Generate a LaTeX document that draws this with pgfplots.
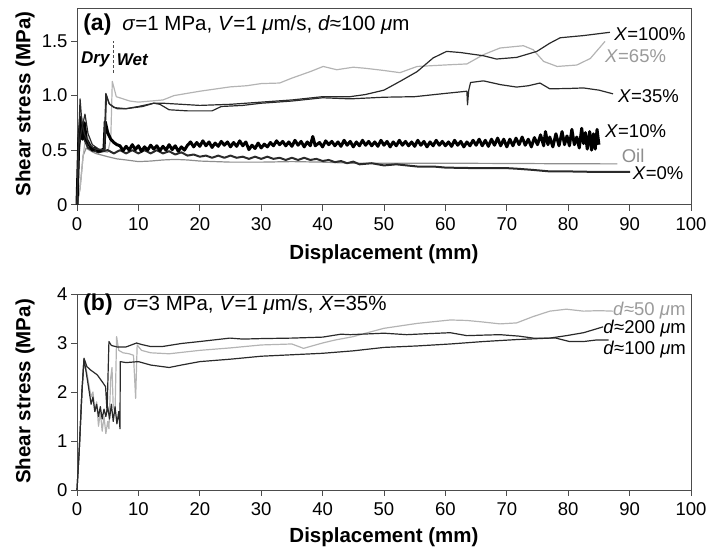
\documentclass[border=0pt]{standalone}
\usepackage{fontspec}
\setmainfont{Liberation Sans}
\usepackage{pgfplots}
\pgfplotsset{compat=1.18}
\definecolor{dk}{HTML}{2A2A2A}
\definecolor{lg}{HTML}{B4B4B4}
\definecolor{og}{HTML}{8E8E8E}
\definecolor{lab}{HTML}{9A9A9A}
\newcommand{\lbl}{\fontsize{18.5}{20}\selectfont}
\begin{document}
\begin{tikzpicture}
\path[use as bounding box] (0,0) rectangle (710pt,549pt);
\pgfplotsset{myax/.style={
  scale only axis, width=614pt,
  xmin=0, xmax=100, xtick={0,10,...,100},
  tick align=outside, tick pos=left, major tick length=6pt,
  axis line style={black!70, line width=0.9pt},
  every tick/.style={black!70, line width=0.9pt},
  ticklabel style={font=\fontsize{18.5}{20}\selectfont},
  xticklabel style={yshift=-3pt},
  /pgf/number format/assume math mode=true,
  label style={font=\bfseries\fontsize{20.5}{22}\selectfont},
  xlabel={Displacement (mm)}, ylabel={Shear stress (MPa)},
  clip=false,
  every axis plot/.append style={line width=1.2pt, line join=round},
}}
% ---------------- panel (a)
\begin{axis}[myax, at={(77pt,344.3pt)}, anchor=south west, height=196.4pt,
  ymin=0, ymax=1.8, ytick={0,0.5,1,1.5}, yticklabels={0,0.5,1.0,1.5},
  xlabel style={at={(axis description cs:0.5,-0.251)}, anchor=center},
  ylabel style={at={(axis description cs:-0.0847,0.513)}, anchor=center}]
% Oil
\addplot[og] coordinates {(0,0) (0.5,0.15) (1,0.45) (1.5,0.52) (2,0.5) (3,0.47) (5,0.44) (6.5,0.42) (8,0.41) (10,0.395) (12,0.4) (14,0.41) (16,0.415) (18,0.41) (20,0.4) (25,0.39) (30,0.39) (35,0.395) (40,0.39) (45,0.38) (50,0.38) (60,0.38) (70,0.378) (80,0.375) (88,0.374)};
% X=65%
\addplot[lg] coordinates {(0,0) (0.5,0.15) (1,0.45) (1.5,0.65) (2.2,0.55) (3,0.5) (5,0.48) (5.5,0.6) (5.75,1.13) (6.4,0.99) (8.6,0.95) (10,0.94) (12,0.95) (14,0.96) (15.8,1.0) (20,1.04) (25,1.08) (27.6,1.09) (30,1.11) (33,1.115) (35,1.16) (38,1.22) (40.1,1.267) (42.3,1.237) (45,1.26) (47,1.25) (50,1.23) (52.6,1.21) (55.4,1.267) (60.8,1.283) (63.5,1.29) (66.2,1.375) (68.9,1.436) (72.7,1.457) (74.3,1.42) (76,1.313) (78.2,1.267) (81.4,1.28) (83.6,1.34) (86,1.497)};
% X=0%
\addplot[dk, line width=2pt] coordinates {(0,0) (0.3,0.5) (0.7,0.7) (1.2,0.6) (1.8,0.52) (2.5,0.5) (3.5,0.48) (5,0.5) (6,0.47) (7,0.5) (8,0.47) (9,0.5) (10,0.47) (11,0.5) (12,0.47) (13,0.5) (14,0.47) (15,0.49) (16,0.46) (17,0.48) (18,0.45) (19,0.46) (20,0.44) (21,0.45) (22,0.43) (23,0.45) (24,0.43) (25,0.45) (26,0.43) (27,0.44) (28,0.42) (29,0.44) (30,0.42) (31,0.44) (32,0.42) (33,0.43) (34,0.41) (35,0.43) (36,0.41) (37,0.43) (38,0.41) (39,0.42) (40,0.4) (41,0.41) (42,0.39) (43,0.4) (44,0.38) (45,0.395) (46,0.37) (48,0.38) (50,0.36) (52,0.37) (55.4,0.35) (58,0.35) (60,0.34) (65,0.335) (70,0.335) (71.6,0.33) (74,0.32) (77,0.305) (80,0.305) (85,0.3) (90.1,0.3)};
% X=10%
\addplot[black, line width=3pt] coordinates {(0,0) (0.3,0.6) (0.6,0.8) (0.9,0.6) (1.2,0.75) (1.5,0.6) (2,0.55) (2.5,0.5) (3,0.52) (3.5,0.49) (4,0.5) (4.4,0.51) (4.6,0.76) (5,0.66) (5.5,0.6) (6,0.57) (6.5,0.55)
(7,0.54) (7.5,0.495) (8,0.535) (8.5,0.50) (9,0.55) (9.5,0.505) (10,0.54) (10.5,0.49) (11,0.53) (11.5,0.50) (12,0.545) (12.5,0.51) (13,0.54) (13.5,0.495) (14,0.535) (14.5,0.50) (15,0.55) (15.5,0.505) (16,0.54) (16.5,0.49) (17,0.53) (17.5,0.50) (18,0.545)
(18.5,0.575) (19,0.53) (19.5,0.57) (20,0.535) (20.5,0.585) (21,0.54) (21.5,0.575) (22,0.525) (22.5,0.565) (23,0.535) (23.5,0.58) (24,0.545) (24.5,0.575) (25,0.53) (25.5,0.57) (26,0.535) (26.5,0.585) (27,0.54) (27.5,0.575)
(28,0.505) (28.5,0.545) (29,0.515) (29.5,0.565) (30,0.52) (30.5,0.555)
(31,0.53) (31.5,0.57) (32,0.54) (32.5,0.585) (33,0.55) (33.5,0.58) (34,0.54) (34.5,0.575) (35,0.535) (35.5,0.59) (36,0.545) (36.5,0.58) (37,0.53) (37.5,0.575) (38,0.54) (38.4,0.625) (38.8,0.54) (39.5,0.57) (40,0.53) (40.5,0.585) (41,0.55) (41.5,0.58) (42,0.54) (42.5,0.575) (43,0.535) (43.5,0.59) (44,0.545) (44.5,0.58) (45,0.53) (45.5,0.575) (46,0.54) (46.5,0.59) (47,0.545) (47.5,0.58) (48,0.54) (48.5,0.575) (49,0.535) (49.5,0.59) (50,0.545) (50.5,0.58) (51,0.53) (51.5,0.575) (52,0.54) (52.5,0.59) (53,0.545) (53.5,0.58) (54,0.54) (54.5,0.575) (55,0.535) (55.5,0.59) (56,0.545) (56.5,0.58) (57,0.53) (57.5,0.575) (58,0.54) (58.5,0.59) (59,0.545) (59.5,0.58) (60,0.54) (60.5,0.575) (61,0.535) (61.5,0.59) (62,0.545) (62.5,0.58) (63,0.53) (63.5,0.575) (64,0.54) (64.5,0.59) (65,0.545) (65.5,0.6) (66,0.54) (66.5,0.59) (67,0.535) (67.5,0.6) (68,0.545) (68.5,0.61) (69,0.54) (69.5,0.6) (70,0.53)
(70.5,0.6) (71,0.54) (71.5,0.61) (72,0.55) (72.5,0.62) (73,0.545) (73.5,0.6) (74,0.53) (74.5,0.615) (75,0.55)
(75.5,0.64) (76,0.54) (76.3,0.67) (76.7,0.55) (77,0.62) (77.5,0.53) (78,0.65) (78.5,0.54) (79,0.67) (79.4,0.55) (79.8,0.63) (80.2,0.54) (80.6,0.69) (81,0.55) (81.4,0.62) (81.8,0.52) (82.2,0.70) (82.5,0.56) (82.8,0.66) (83.1,0.51) (83.5,0.67) (83.8,0.50) (84.1,0.65) (84.4,0.51) (84.7,0.69) (85,0.55)};
% X=35%
\addplot[dk] coordinates {(0,0) (0.3,0.55) (0.8,0.7) (1.3,0.83) (1.8,0.65) (2.5,0.55) (3.5,0.51) (4.5,0.5) (4.8,1.0) (5.3,0.92) (6.5,0.88) (8,0.88) (10,0.9) (12.5,0.93) (13.5,0.92) (15,0.87) (18,0.86) (22,0.86) (23.5,0.9) (27,0.91) (30,0.93) (35,0.95) (40,0.98) (44.5,0.97) (50,0.985) (55,0.99) (60,1.02) (63.5,1.04) (63.6,0.915) (63.8,1.05) (64.1,1.12) (66.2,1.135) (69,1.1) (71.6,1.078) (73.5,1.09) (75.4,1.115) (77,1.062) (80,1.065) (82.5,1.07) (85,1.05) (87.3,1.016)};
% X=100%
\addplot[dk] coordinates {(0,0) (0.2,0.5) (0.5,0.97) (0.8,0.75) (1.2,0.65) (2,0.55) (3,0.51) (4.4,0.5) (4.7,1.02) (5.2,0.93) (6,0.89) (8,0.88) (10.7,0.9) (12.5,0.93) (14,0.93) (17,0.92) (20,0.91) (25,0.92) (30,0.94) (35,0.96) (40,0.99) (44.5,0.99) (47,1.01) (50,1.05) (52.6,1.13) (55.4,1.22) (58,1.345) (60.2,1.405) (62.4,1.395) (66.2,1.365) (68.3,1.335) (71.6,1.35) (74.9,1.405) (77,1.48) (78.7,1.53) (82.5,1.55) (86.8,1.58)};
% Dry/Wet divider
\addplot[black!70, line width=0.8pt, densely dashed] coordinates {(5.9,1.21) (5.9,1.5)};
\node[anchor=east, inner sep=1pt, font=\bfseries\itshape\fontsize{17}{18}\selectfont] at (axis cs:5.5,1.33) {Dry};
\node[anchor=west, inner sep=1pt, font=\bfseries\itshape\fontsize{17}{18}\selectfont] at (axis cs:6.3,1.33) {Wet};
\node[anchor=west, inner sep=0pt] at (axis cs:1,1.65) {\fontsize{23}{24}\selectfont\bfseries (a)\hspace{11pt}\fontsize{20.5}{22}\selectfont\mdseries\textit{σ}=1 MPa, \textit{V}=1 \textit{μ}m/s, \textit{d}≈100 \textit{μ}m};
\node[anchor=west, inner sep=0pt, font=\lbl] at (axis cs:87.5,1.56) {\textit{X}=100\%};
\node[anchor=west, inner sep=0pt, font=\lbl, text=lab] at (axis cs:86,1.365) {\textit{X}=65\%};
\node[anchor=west, inner sep=0pt, font=\lbl] at (axis cs:88.1,0.995) {\textit{X}=35\%};
\node[anchor=west, inner sep=0pt, font=\lbl] at (axis cs:86,0.67) {\textit{X}=10\%};
\node[anchor=west, inner sep=0pt, font=\lbl, text=og] at (axis cs:88.7,0.445) {Oil};
\node[anchor=west, inner sep=0pt, font=\lbl] at (axis cs:90.5,0.29) {\textit{X}=0\%};
\end{axis}
% ---------------- panel (b)
\begin{axis}[myax, at={(77pt,59pt)}, anchor=south west, height=196pt,
  ymin=0, ymax=4, ytick={0,1,2,3,4},
  xlabel style={at={(axis description cs:0.5,-0.24)}, anchor=center},
  ylabel style={at={(axis description cs:-0.0847,0.503)}, anchor=center}]
% d=50
\addplot[lg] coordinates {(0,0) (0.4,0.9) (0.8,2.0) (1.14,2.65) (1.6,2.4) (2,2.1) (2.3,1.9) (2.6,2.0) (2.9,1.6) (3.2,1.8) (3.5,1.3) (3.8,1.6) (4.1,1.2) (4.4,1.5) (4.7,1.15) (5.0,1.4) (5.2,1.25) (5.5,2.3) (5.7,2.5) (5.9,1.7) (6.2,1.6) (6.45,3.13) (6.8,2.85) (7.5,2.8) (8.5,2.78) (9.2,2.75) (9.55,1.87) (9.8,2.96) (10.5,2.85) (12,2.8) (15,2.78) (20,2.85) (25,2.9) (30,2.96) (35,2.98) (36.9,2.89) (38,2.93) (40,3.0) (42,3.06) (45,3.13) (47,3.2) (50,3.3) (55.4,3.4) (60.8,3.47) (63.5,3.46) (66,3.43) (68.9,3.39) (71.6,3.41) (74.3,3.54) (77,3.65) (79.7,3.69) (82.5,3.65) (85,3.66) (87.3,3.65)};
% d=200
\addplot[dk] coordinates {(0,0) (0.4,0.9) (0.8,2.0) (1.14,2.67) (1.5,2.4) (2,2.0) (2.3,1.75) (2.6,1.9) (2.9,1.6) (3.2,1.75) (3.5,1.5) (3.8,1.7) (4.1,1.45) (4.4,1.65) (4.7,1.5) (5,1.7) (5.3,1.45) (5.6,1.75) (5.9,1.4) (6.2,1.7) (6.5,1.35) (6.8,1.6) (7.0,1.25) (7.05,2.62) (8,2.6) (10,2.62) (12,2.55) (15,2.5) (17,2.55) (20,2.62) (25,2.67) (30,2.73) (35,2.76) (40,2.79) (45,2.84) (50,2.91) (55.4,2.94) (60.8,2.98) (66.2,3.03) (71.6,3.07) (77,3.1) (79.7,3.15) (82.5,3.21) (85.7,3.33)};
% d=100
\addplot[dk] coordinates {(0,0) (0.4,0.9) (0.8,2.0) (1.14,2.69) (1.6,2.52) (2.2,2.45) (3.3,2.35) (4.1,2.21) (4.65,2.11) (4.9,1.6) (5.2,3.03) (5.6,2.95) (6.5,2.92) (8,2.92) (9.7,3.0) (10.5,2.97) (11.9,2.93) (14,2.93) (17,2.99) (20,3.03) (24.9,3.1) (27,3.08) (30,3.09) (35,3.1) (40,3.12) (43,3.18) (44.5,3.17) (50,3.2) (53.7,3.17) (57,3.19) (60.8,3.21) (63.5,3.15) (66,3.16) (68.9,3.17) (72,3.14) (74.3,3.1) (78,3.1) (80.2,3.03) (82.5,3.03) (84.5,3.06) (86.6,3.06)};
\node[anchor=west, inner sep=0pt] at (axis cs:1,3.78) {\fontsize{23}{24}\selectfont\bfseries (b)\hspace{11pt}\fontsize{20.5}{22}\selectfont\mdseries\textit{σ}=3 MPa, \textit{V}=1 \textit{μ}m/s, \textit{X}=35\%};
\node[anchor=west, inner sep=0pt, font=\lbl, text=lab] at (axis cs:87.3,3.67) {\textit{d}≈50 \textit{μ}m};
\node[anchor=west, inner sep=0pt, font=\lbl] at (axis cs:85.7,3.30) {\textit{d}≈200 \textit{μ}m};
\node[anchor=west, inner sep=0pt, font=\lbl] at (axis cs:85.7,2.87) {\textit{d}≈100 \textit{μ}m};
\end{axis}
\end{tikzpicture}
\end{document}
